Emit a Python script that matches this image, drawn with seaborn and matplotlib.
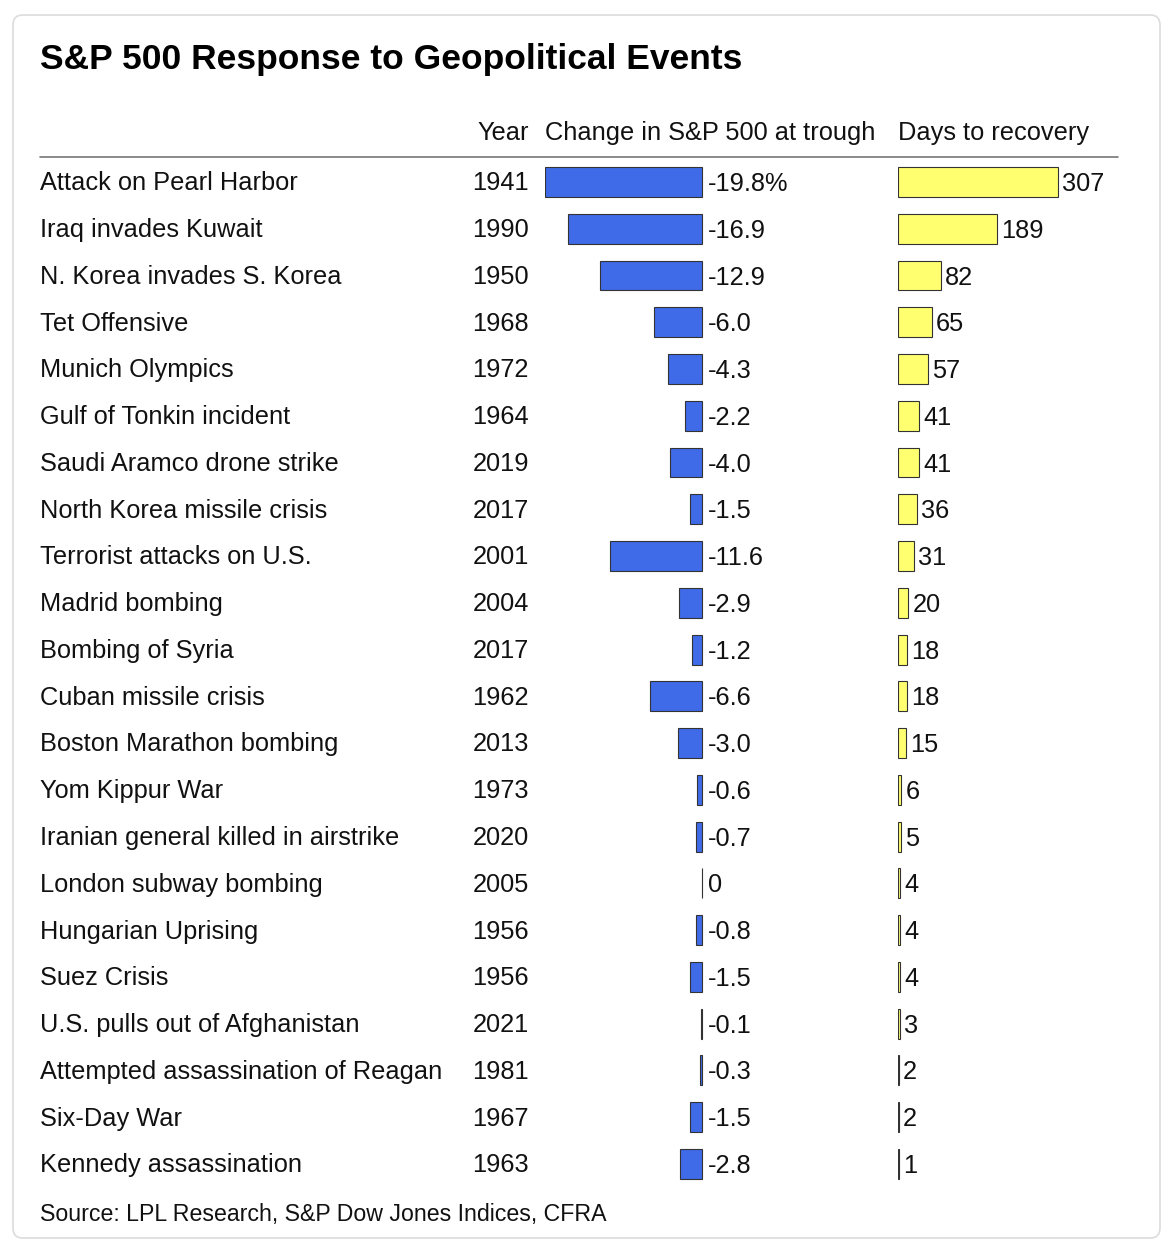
import matplotlib
matplotlib.use("Agg")
import matplotlib.pyplot as plt
import seaborn as sns
import pandas as pd
from matplotlib.patches import FancyBboxPatch
from matplotlib.transforms import blended_transform_factory

# data
events = [
    "Attack on Pearl Harbor", "Iraq invades Kuwait", "N. Korea invades S. Korea",
    "Tet Offensive", "Munich Olympics", "Gulf of Tonkin incident",
    "Saudi Aramco drone strike", "North Korea missile crisis", "Terrorist attacks on U.S.",
    "Madrid bombing", "Bombing of Syria", "Cuban missile crisis",
    "Boston Marathon bombing", "Yom Kippur War", "Iranian general killed in airstrike",
    "London subway bombing", "Hungarian Uprising", "Suez Crisis",
    "U.S. pulls out of Afghanistan", "Attempted assassination of Reagan",
    "Six-Day War", "Kennedy assassination",
]
years = [1941, 1990, 1950, 1968, 1972, 1964, 2019, 2017, 2001, 2004, 2017,
         1962, 2013, 1973, 2020, 2005, 1956, 1956, 2021, 1981, 1967, 1963]
change = [-19.8, -16.9, -12.9, -6.0, -4.3, -2.2, -4.0, -1.5, -11.6, -2.9, -1.2,
          -6.6, -3.0, -0.6, -0.7, 0.0, -0.8, -1.5, -0.1, -0.3, -1.5, -2.8]
days = [307, 189, 82, 65, 57, 41, 41, 36, 31, 20, 18, 18, 15, 6, 5, 4, 4, 4, 3, 2, 2, 1]

df = pd.DataFrame({"event": events, "year": years, "change": change, "days": days})
n = len(df)

sns.set_style("white")
plt.rcParams["font.family"] = ["Liberation Sans", "DejaVu Sans"]

W, H = 1176, 1254
FS = 18.3
fig = plt.figure(figsize=(W / 100, H / 100), dpi=100)

def fx(px):
    return px / W

def fy(py):
    return 1 - py / H

# card outline, kept behind the axes
card = FancyBboxPatch((fx(13), fy(1238)), fx(1160) - fx(13), fy(15) - fy(1238),
                      boxstyle="round,pad=0,rounding_size=0.008",
                      transform=fig.transFigure, facecolor="white",
                      edgecolor="#dcdcdc", linewidth=1.2, zorder=-10)
fig.patches.append(card)

top, bottom = 158.6, 1187.3
ax1 = fig.add_axes([fx(545), fy(bottom), fx(880) - fx(545), fy(top) - fy(bottom)])
ax2 = fig.add_axes([fx(898), fy(bottom), fx(1118) - fx(898), fy(top) - fy(bottom)])

sns.barplot(data=df, y="event", x="change", color="#3f6be8", saturation=1,
            edgecolor="#333333", linewidth=0.8, width=0.64, ax=ax1)
sns.barplot(data=df, y="event", x="days", color="#ffff70", saturation=1,
            edgecolor="#333333", linewidth=0.8, width=0.64, ax=ax2)

ax1.set_xlim(-19.8, (880 - 702) / (157 / 19.8))
ax2.set_xlim(0, 220 / (160 / 307))
for ax in (ax1, ax2):
    ax.set_ylim(n - 0.5, -0.5)
    ax.set_axis_off()
    ax.patch.set_alpha(0)

# value labels
for i, v in enumerate(df["change"]):
    if v == 0:
        s = "0"
    elif i == 0:
        s = f"{v:.1f}%"
    else:
        s = f"{v:.1f}"
    ax1.annotate(s, (0, i), xytext=(4.5, -1.5), textcoords="offset points",
                 va="center", ha="left", fontsize=FS, color="#111111")
for i, v in enumerate(df["days"]):
    ax2.annotate(str(v), (v, i), xytext=(3, -1.5), textcoords="offset points",
                 va="center", ha="left", fontsize=FS, color="#111111")

# event names and years
tr = blended_transform_factory(fig.transFigure, ax1.transData)
for i, row in df.iterrows():
    fig.text(fx(40), i + 0.03, row["event"], transform=tr, va="center", ha="left",
             fontsize=FS, color="#111111")
    fig.text(fx(529), i + 0.03, str(row["year"]), transform=tr, va="center", ha="right",
             fontsize=FS, color="#111111")

# headers
fig.text(fx(529), fy(133), "Year", ha="right", va="center", fontsize=FS, color="#111111")
fig.text(fx(545), fy(133), "Change in S&P 500 at trough", ha="left", va="center",
         fontsize=FS, color="#111111")
fig.text(fx(898), fy(133), "Days to recovery", ha="left", va="center",
         fontsize=FS, color="#111111")
fig.add_artist(plt.Line2D([fx(40), fx(1118)], [fy(157), fy(157)],
                          transform=fig.transFigure, color="#777777", linewidth=1.2))

fig.text(fx(40), fy(60), "S&P 500 Response to Geopolitical Events", ha="left", va="center",
         fontsize=25.5, fontweight="bold", color="#000000")
fig.text(fx(40), fy(1214), "Source: LPL Research, S&P Dow Jones Indices, CFRA", ha="left",
         va="center", fontsize=16.7, color="#111111")

fig.savefig("out.png", dpi=100, facecolor="white")
